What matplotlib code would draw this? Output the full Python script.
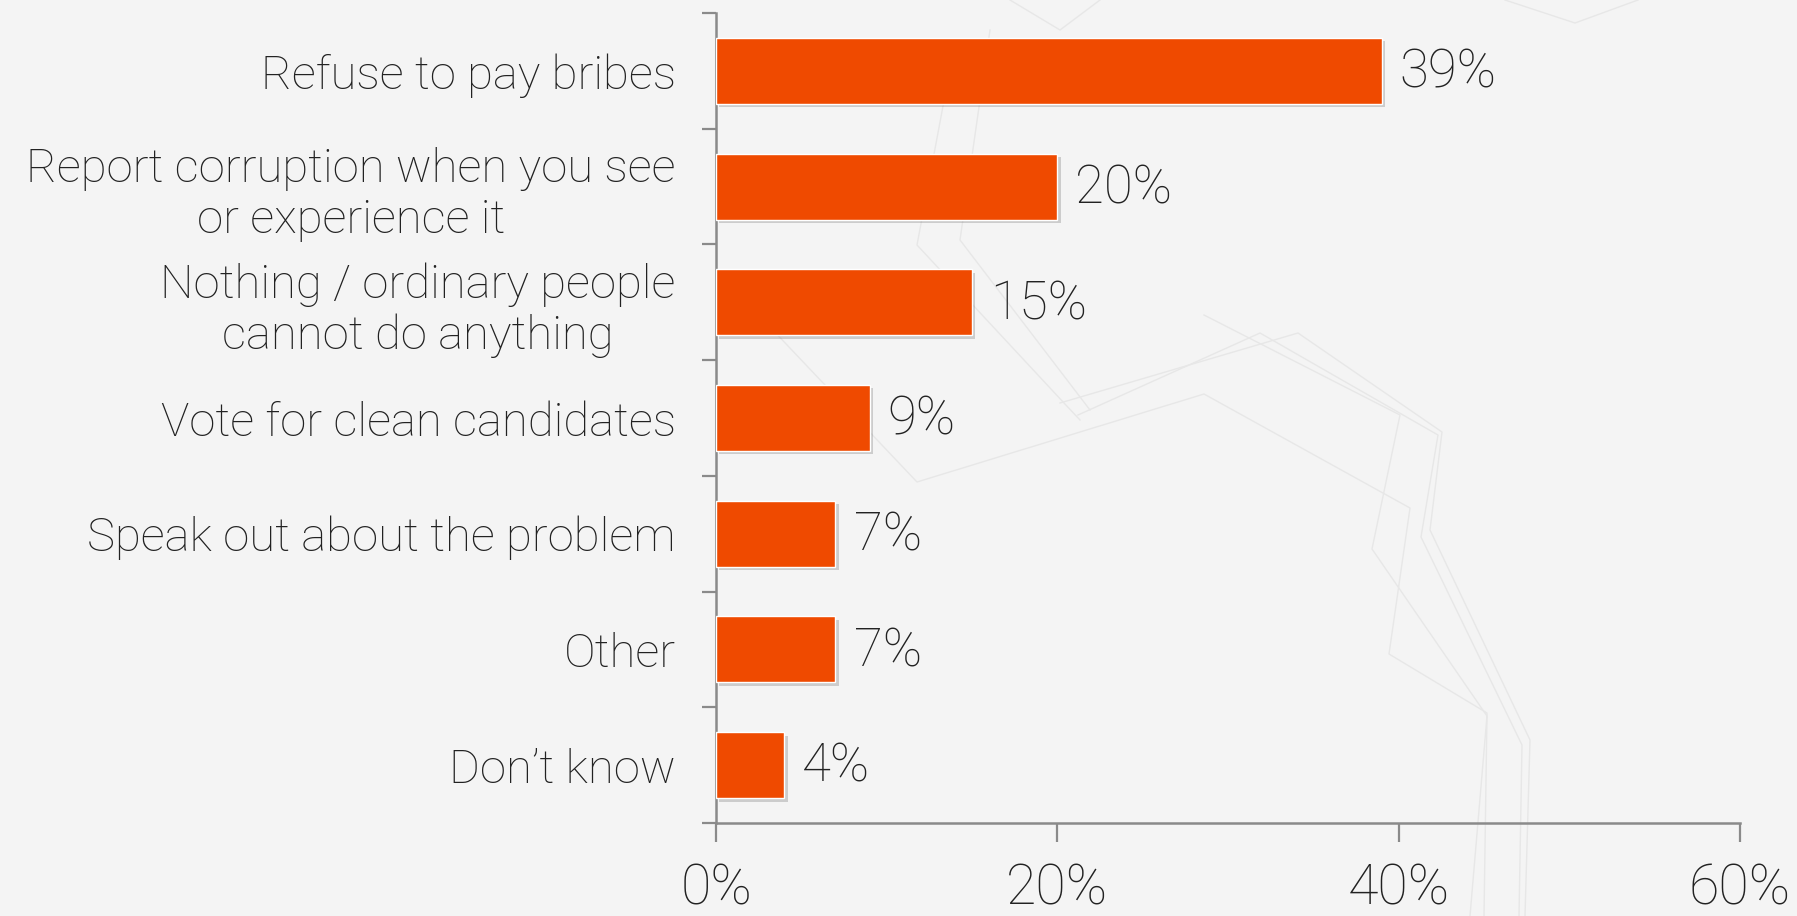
import matplotlib
matplotlib.use("Agg")
import matplotlib.pyplot as plt
import matplotlib.patheffects as pe
from matplotlib.ticker import FixedLocator

categories = [
    "Refuse to pay bribes",
    "Report corruption when you see\nor experience it",
    "Nothing / ordinary people\ncannot do anything",
    "Vote for clean candidates",
    "Speak out about the problem",
    "Other",
    "Don\u2019t know",
]
values = [39, 20, 15, 9, 7, 7, 4]
x_ticks = [0, 20, 40, 60]
x_tick_labels = ["0%", "20%", "40%", "60%"]

W, H = 1797, 916
BG = "#f4f4f4"
BAR = "#ef4a00"
AXIS = "#8a8a8a"
TEXT = "#222222"
FONT = ["Roboto", "DejaVu Sans"]
WEIGHT = "light"

plt.rcParams["font.family"] = FONT

fig = plt.figure(figsize=(W / 100, H / 100), dpi=100, facecolor=BG)
ax = fig.add_axes([716 / W, 1 - 823 / H, (1740 - 716) / W, (823 - 13) / H])
ax.set_facecolor("none")

# faint template line-work in the background (pixel positions on the slide)
deco = [
    [(770, 327), (917, 482), (1204, 394), (1410, 508), (1389, 654), (1487, 713), (1484, 916)],
    [(1078, 415), (1260, 333), (1438, 435), (1421, 537), (1522, 745), (1519, 916)],
    [(1060, 403), (1298, 333), (1442, 432), (1430, 530), (1530, 740), (1525, 916)],
    [(952, 58), (917, 245), (1064, 403), (1080, 420)],
    [(990, 30), (960, 240), (1090, 410)],
    [(1204, 315), (1400, 415), (1372, 549), (1487, 716), (1470, 916)],
    [(1505, 0), (1575, 23), (1638, 0)],
    [(1010, 0), (1060, 30), (1100, 0)],
]
for pts in deco:
    xs = [p[0] / W for p in pts]
    ys = [1 - p[1] / H for p in pts]
    fig.add_artist(plt.Line2D(xs, ys, transform=fig.transFigure, color="#e7e7e7",
                              lw=1.0, zorder=0))

y_pos = list(range(len(categories)))
bars = ax.barh(y_pos, values, height=0.57, color=BAR, edgecolor="white",
               linewidth=1.0, zorder=3)
for b in bars:
    b.set_path_effects([pe.SimplePatchShadow(offset=(2.5, -2.5), alpha=0.25,
                                             shadow_rgbFace="#555555"),
                        pe.Normal()])

for y, v in zip(y_pos, values):
    ax.annotate(f"{v}%", xy=(v, y), xytext=(13, -1.5), textcoords="offset points",
                ha="left", va="center", fontsize=38, fontweight=WEIGHT,
                color=TEXT, zorder=4)

ax.set_xlim(0, 60)
ax.set_ylim(len(categories) - 0.5, -0.5)

ax.xaxis.set_major_locator(FixedLocator(x_ticks))
ax.set_xticklabels(x_tick_labels, fontweight=WEIGHT)
ax.set_yticks(y_pos)
ax.set_yticklabels(categories, multialignment="center", linespacing=1.2,
                   fontweight=WEIGHT)
ax.yaxis.set_minor_locator(FixedLocator([i - 0.5 for i in range(len(categories) + 1)]))

ax.tick_params(axis="y", which="major", length=0, pad=29, labelsize=34, labelcolor=TEXT)
ax.tick_params(axis="y", which="minor", length=10, width=1.6, color=AXIS, direction="out")
ax.tick_params(axis="x", which="major", length=13.5, width=1.6, color=AXIS,
               direction="out", pad=15, labelsize=40, labelcolor=TEXT)

for side in ("top", "right"):
    ax.spines[side].set_visible(False)
for side in ("left", "bottom"):
    ax.spines[side].set_color(AXIS)
    ax.spines[side].set_linewidth(1.8)

fig.savefig("out.png", dpi=100, facecolor=BG)
